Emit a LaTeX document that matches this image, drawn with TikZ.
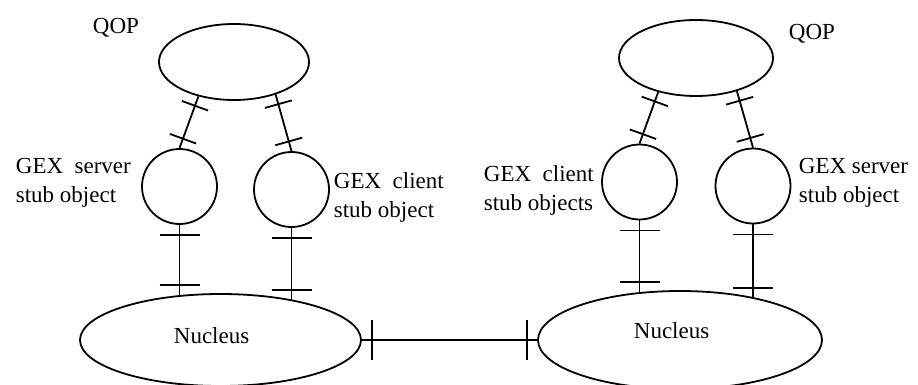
\documentclass[tikz,border=0pt]{standalone}
\usepackage{fontspec}
\setmainfont{Liberation Serif}
\usetikzlibrary{shapes.geometric,decorations.markings}
\begin{document}
\begin{tikzpicture}[x=1pt,y=-1pt,line width=1.8pt,
  every node/.style={font=\fontsize{23}{29}\selectfont},
  blob/.style={draw,ellipse,inner sep=0pt},
  stub/.style={draw,circle,inner sep=0pt,minimum size=75pt},
  txt/.style={inner sep=0pt,anchor=base west,align=left},
  link/.style={postaction={decorate,decoration={markings,
      mark=at position 10pt with {\draw[line width=1.8pt] (0pt,-#1) -- (0pt,#1);},
      mark=at position -10pt with {\draw[line width=1.8pt] (0pt,-#1) -- (0pt,#1);}}}},
  link/.default=20pt]
\useasboundingbox (0,0) rectangle (918,384);

% QOP objects
\node[blob,minimum width=150pt,minimum height=76pt] (qopL) at (234,62) {};
\node[blob,minimum width=154pt,minimum height=76pt] (qopR) at (696,58) {};

% GEX stub objects
\node[stub] (srvL) at (179.5,186.5) {};
\node[stub] (cliL) at (291.5,189.5) {};
\node[stub] (cliR) at (639.5,182) {};
\node[stub] (srvR) at (753,186) {};

% Nuclei
\node[blob,minimum width=281pt,minimum height=92pt] (nucL) at (220.5,340) {};
\node[blob,minimum width=284pt,minimum height=98pt] (nucR) at (680,340) {};

% Labels (base anchor sits on the last line of a two-line label)
\node[txt] (qopLlbl) at (92,33) {QOP};
\node[txt] (qopRlbl) at (788,39) {QOP};
\node[txt] (srvLlbl) at (15,202) {GEX\ \ server\\stub object};
\node[txt] (cliLlbl) at (333,217) {GEX\ \ client\\stub object};
\node[txt] (cliRlbl) at (483,210) {GEX\ \ client\\stub objects};
\node[txt] (srvRlbl) at (798,202) {GEX server\\stub object};
\node[txt] (nucLlbl) at (173,343) {Nucleus};
\node[txt] (nucRlbl) at (633,338) {Nucleus};

% QOP to stub links
\draw[link=14pt] (qopL.224) -- (srvL.north);
\draw[link=14pt] (qopL.322.5) -- (cliL.north);
\draw[link=14pt] (qopR.222.4) -- (cliR.north);
\draw[link=14pt] (qopR.321.2) -- (srvR.north);

% stub to nucleus links
\draw[link] (srvL.south) -- (srvL.south |- nucL.133);
\draw[link] (cliL.south) -- (cliL.south |- nucL.29.2);
\draw[link] (cliR.south) -- (cliR.south |- nucR.130.8);
\draw[link] (srvR.south) -- (srvR.south |- nucR.29.9);

% nucleus to nucleus link
\draw[link] (nucL.east) -- (nucR.west);
\end{tikzpicture}
\end{document}
